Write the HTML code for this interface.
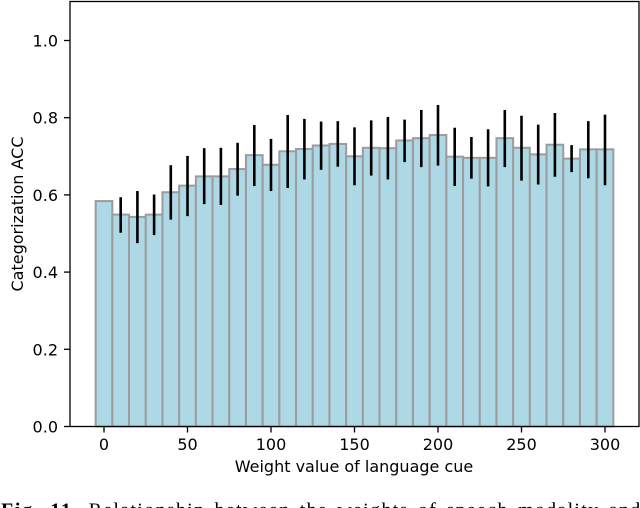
<!DOCTYPE html>
<html><head><meta charset="utf-8"><title>Categorization ACC chart</title>
<style>
html,body{margin:0;padding:0;background:#fff;width:640px;height:508px;overflow:hidden}
svg{display:block}
text{font-family:"DejaVu Sans",sans-serif;fill:#000}
</style></head><body>
<svg id="chart" width="640" height="508" viewBox="0 0 640 508" xmlns="http://www.w3.org/2000/svg">
<text x="1" y="516.5" style="font-family:'Liberation Serif',serif;font-size:20px;letter-spacing:1.3px;word-spacing:3px"><tspan font-weight="bold" style="letter-spacing:1.7px">Fig. 11.</tspan> Relationship between the weights of speech modality and text</text>
<text x="354" y="472" text-anchor="middle" font-size="16">Weight value of language cue</text>
<text transform="translate(23,214) rotate(-90)" text-anchor="middle" font-size="16">Categorization ACC</text>
</svg>
<script>
const categories = [0,10,20,30,40,50,60,70,80,90,100,110,120,130,140,150,160,170,180,190,200,210,220,230,240,250,260,270,280,290,300];
const accuracy = [0.584,0.549,0.543,0.549,0.607,0.624,0.648,0.648,0.667,0.703,0.678,0.713,0.719,0.728,0.732,0.700,0.722,0.721,0.741,0.747,0.755,0.699,0.696,0.696,0.747,0.722,0.705,0.730,0.694,0.718,0.718];
const errorHigh = [null,0.594,0.610,0.601,0.677,0.701,0.721,0.722,0.735,0.781,0.745,0.807,0.797,0.790,0.791,0.775,0.793,0.802,0.795,0.820,0.833,0.774,0.750,0.770,0.820,0.805,0.782,0.812,0.729,0.791,0.808];
const errorLow = [null,0.502,0.475,0.496,0.536,0.545,0.576,0.574,0.598,0.623,0.610,0.618,0.640,0.665,0.673,0.625,0.650,0.640,0.685,0.672,0.676,0.623,0.642,0.622,0.672,0.637,0.627,0.647,0.659,0.643,0.625];
const xTicks = [0,50,100,150,200,250,300];
const yTicks = [0.0,0.2,0.4,0.6,0.8,1.0];
const barWidth = 10;

const svg = document.getElementById('chart');
const NS = 'http://www.w3.org/2000/svg';
const left = 70, right = 639, top_ = 1.5, bottom = 426.5;
function xScale(v){ return 104 + v * (605 - 104) / 300; }
function yScale(v){ return bottom - v * 386; }
function add(tag, attrs, parent){
  const el = document.createElementNS(NS, tag);
  for (const k in attrs) el.setAttribute(k, attrs[k]);
  (parent || svg).appendChild(el);
  return el;
}
categories.forEach(function(c, i){
  const x0 = xScale(c - barWidth / 2), x1 = xScale(c + barWidth / 2), y = yScale(accuracy[i]);
  const bar = add('rect', {x: x0, y: y, width: x1 - x0, height: bottom - y, fill: '#add8e6', stroke: '#9c9c9c', 'stroke-width': 2});
  
  
});
categories.forEach(function(c, i){
  if (errorHigh[i] === null) return;
  const line = add('line', {x1: xScale(c), x2: xScale(c), y1: yScale(errorHigh[i]), y2: yScale(errorLow[i]), stroke: '#000', 'stroke-width': 2.6});
  
  
});
const frame = add('rect', {x: left, y: top_, width: right - left, height: bottom - top_, fill: 'none', stroke: '#000', 'stroke-width': 1.3});


xTicks.forEach(function(t){
  const x = xScale(t);
  const tick = add('line', {x1: x, x2: x, y1: bottom, y2: bottom + 6, stroke: '#000', 'stroke-width': 1.3});
  
  
  const label = add('text', {x: x, y: 450, 'text-anchor': 'middle', 'font-size': 16});
  
  
  label.textContent = String(t);
});
yTicks.forEach(function(t){
  const y = yScale(t);
  const tick = add('line', {x1: left - 6, x2: left, y1: y, y2: y, stroke: '#000', 'stroke-width': 1.3});
  
  
  const label = add('text', {x: left - 12, y: y + 6, 'text-anchor': 'end', 'font-size': 16});
  
  
  label.textContent = t.toFixed(1);
});
</script>
</body></html>
